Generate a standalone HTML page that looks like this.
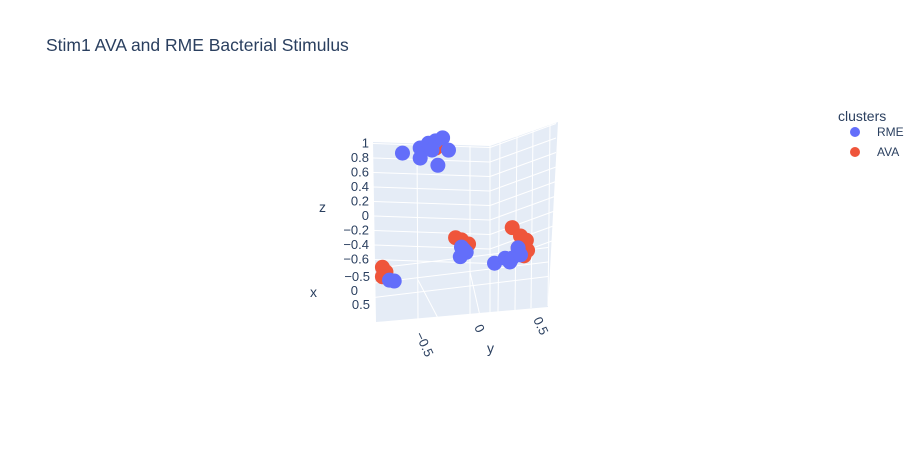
<!DOCTYPE html>
<html><head><meta charset="utf-8"><style>
body{margin:0;background:#fff;width:921px;height:450px;overflow:hidden;font-family:"Liberation Sans",sans-serif}
svg text{font-family:"Liberation Sans",sans-serif;fill:#2a3f5f}
</style></head><body>
<svg id="chart" width="921" height="450">
<text x="46" y="51" font-size="17.5">Stim1 AVA and RME Bacterial Stimulus</text>
<g id="scene">
<polygon points="373,142 490,146 558,122 548,307 376,322" fill="#e5ecf6"/>
<g id="grid" stroke="#fff" stroke-width="1" fill="none"></g>
</g>
<g id="ticks" font-size="13"></g>
<text x="319" y="212" font-size="14">z</text>
<text x="310" y="297" font-size="14">x</text>
<text x="487" y="353" font-size="14">y</text>
<g id="points"></g>
<g>
<text x="838" y="121" font-size="14">clusters</text>
<g><circle cx="855" cy="132" r="5" fill="#636efa"/><text x="877" y="136" font-size="12">RME</text></g>
<g><circle cx="855" cy="152" r="5" fill="#EF553B"/><text x="877" y="156" font-size="12">AVA</text></g>
</g>
</svg>
<script>
const zTicks=[1,0.8,0.6,0.4,0.2,0,-0.2,-0.4,-0.6];
const xTicks=[-0.5,0,0.5];
const yTicks=[-0.5,0,0.5];
const rmeY=[-0.64,-0.49,-0.42,-0.36,-0.30,-0.49,-0.34,-0.25,-0.39,-0.14,-0.10,-0.15,-0.12,0.14,0.23,0.29,0.34,0.27,0.36,-0.75,-0.71];
const rmeZ=[1.00,1.04,1.09,1.11,1.14,0.90,0.77,0.96,0.99,-0.40,-0.48,-0.53,-0.44,-0.68,-0.63,-0.64,-0.51,-0.69,-0.61,-0.73,-0.75];
const avaY=[-0.36,-0.32,-0.19,-0.14,-0.08,0.29,0.36,0.41,0.42,0.39,0.34,-0.81,-0.78,-0.81];
const avaZ=[1.01,1.05,-0.26,-0.30,-0.37,-0.22,-0.35,-0.42,-0.56,-0.63,-0.51,-0.54,-0.61,-0.67];
const NS="http://www.w3.org/2000/svg";
function px(x,y,z){return 478+118*y+2*x;}
function py(x,y,z){return 216-72.5*z-15*y+29*x;}
function zy(z){return 216-72.5*z;}
const grid=document.getElementById('grid');
function line(x1,y1,x2,y2){const l=document.createElementNS(NS,'line');l.setAttribute('x1',x1);l.setAttribute('y1',y1);l.setAttribute('x2',x2);l.setAttribute('y2',y2);


grid.appendChild(l);}
zTicks.forEach(z=>{const y=zy(z);line(373,y,490,y+4);line(490,y+4,556,y-20);});
line(417,144,418,322);line(470,146,470,316);line(490,146,490,314);
[500,517,533,550].forEach((x,i)=>line(x,142-6*i,x-2,312-2*i));
xTicks.forEach(x=>{const o=29*x;line(374,283+o,548,262+o);});
line(418,280,440,322);line(470,272,480,316);
const tk=document.getElementById('ticks');
function txt(s,x,y,anchor,rot){const t=document.createElementNS(NS,'text');t.textContent=s;t.setAttribute('x',x);t.setAttribute('y',y);t.setAttribute('text-anchor',anchor);if(rot)t.setAttribute('transform','rotate('+rot+' '+x+' '+y+')');


tk.appendChild(t);return t;}
function fmt(v){return v<0?'\u2212'+Math.abs(v):String(v);}
zTicks.forEach(z=>txt(fmt(z),369,zy(z)+4,'end'));
xTicks.forEach(x=>txt(fmt(x),x===0?358:370,295+28*x,'end'));
yTicks.forEach(y=>txt(fmt(y),px(0,y,0)-4,327-15*y,'start',65));
const pts=document.getElementById('points');
function dot(y,z,c,name){const e=document.createElementNS(NS,'circle');e.setAttribute('cx',px(0,y,z));e.setAttribute('cy',py(0,y,z));e.setAttribute('r',7.5);e.setAttribute('fill',c);


pts.appendChild(e);}
avaY.forEach((y,i)=>dot(y,avaZ[i],'#EF553B','ava-point'));
rmeY.forEach((y,i)=>dot(y,rmeZ[i],'#636efa','rme-point'));
</script>
</body></html>
